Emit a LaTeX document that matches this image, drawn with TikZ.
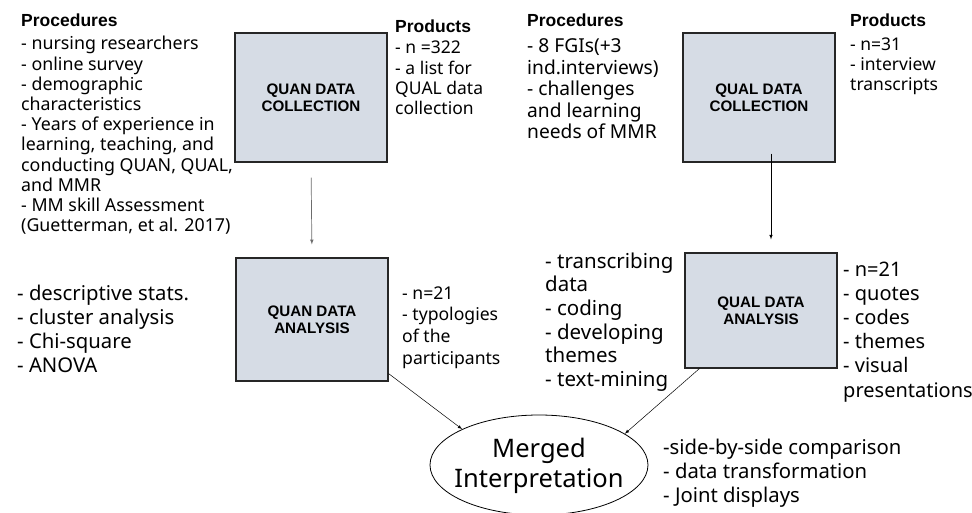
\documentclass[tikz,border=0pt]{standalone}
\usepackage{fontspec}
\setmainfont{Noto Sans}
\newfontfamily\headfont{Liberation Sans}
\usetikzlibrary{shapes.geometric}
\definecolor{boxfill}{HTML}{D6DCE5}

\begin{document}
\begin{tikzpicture}[x=1pt, y=-1pt,
  box/.style={draw=black!85, fill=boxfill, line width=1.1pt, align=center, inner sep=0pt,
    minimum width=152pt, font=\headfont\bfseries\fontsize{15.2}{17}\selectfont},
  head/.style={anchor=base west, inner sep=0pt, font=\headfont\bfseries\fontsize{17.5}{20}\selectfont},
  txt/.style={anchor=base west, inner sep=0pt, align=left}]
\useasboundingbox (0,0) rectangle (972,513);

% boxes
\node [box, minimum height=129pt] (quancol) at (311,97.5) {QUAN DATA\\COLLECTION};
\node [box, minimum height=129pt] (qualcol) at (759,97.5) {QUAL DATA\\COLLECTION};
\node [box, minimum height=123pt] (quanana) at (312,319.5) {QUAN DATA\\ANALYSIS};
\node [box, minimum height=115pt] (qualana) at (761,310.5) {QUAL DATA\\ANALYSIS};
\node [draw, ellipse, line width=0.8pt, minimum width=218pt, minimum height=100pt, inner sep=0pt] (merged) at (539,465) {};
\node [align=center, font=\fontsize{25.5}{30}\selectfont] (mergedlbl) at (539,466) {Merged\\Interpretation};

% QUAN side texts (anchored at the last line)
\node [head] (quanprochead) at (21,27) {Procedures};
\node [txt, font=\fontsize{17.8}{20.2}\selectfont] (quanproc) at (21,231.8) {- nursing researchers\\- online survey\\- demographic\\characteristics\\- Years of experience in\\learning, teaching, and\\conducting QUAN, QUAL,\\and MMR\\- MM skill Assessment\\(Guetterman, et al. 2017)};
\node [head] (quanprodhead) at (395,33) {Products};
\node [txt, font=\fontsize{17.5}{20.3}\selectfont] (quanprod) at (395,114.9) {- n =322\\- a list for\\QUAL data\\collection};
\node [txt, font=\fontsize{20.3}{24}\selectfont] (quanmeth) at (17,372) {- descriptive stats.\\- cluster analysis\\- Chi-square\\- ANOVA};
\node [txt, font=\fontsize{17.6}{21.7}\selectfont] (quanres) at (402,364.1) {- n=21\\- typologies\\of the\\participants};

% QUAL side texts
\node [head] (qualprochead) at (527,27) {Procedures};
\node [txt, font=\fontsize{19.2}{21.5}\selectfont] (qualproc) at (527,139) {- 8 FGIs(+3\\ind.interviews)\\- challenges\\and learning\\needs of MMR};
\node [head] (qualprodhead) at (850,27) {Products};
\node [txt, font=\fontsize{17.5}{20}\selectfont] (qualprod) at (850,91) {- n=31\\- interview\\transcripts};
\node [txt, font=\fontsize{20.5}{23.7}\selectfont] (qualmeth) at (545,386.5) {- transcribing\\data\\- coding\\- developing\\themes\\- text-mining};
\node [txt, font=\fontsize{20}{24.2}\selectfont] (qualres) at (843,397) {- n=21\\- quotes\\- codes\\- themes\\- visual\\presentations};
\node [txt, font=\fontsize{20.3}{24}\selectfont] (mergedres) at (663,502) {-side-by-side comparison\\- data transformation\\- Joint displays};

% arrows
\draw [-latex, gray!85!black, line width=0.7pt, shorten <=15pt, shorten >=13pt] (quancol.south) -- (quanana.north);
\draw [-latex, line width=0.6pt, shorten <=-9pt, shorten >=13pt] ([xshift=12pt]qualcol.south) -- ([xshift=10pt]qualana.north);
\draw [-latex, line width=0.5pt] ([yshift=8pt]quanana.south east) -- (merged.155);
\draw [-latex, line width=0.5pt] ([xshift=15pt]qualana.south west) -- (merged.20);
\end{tikzpicture}
\end{document}
